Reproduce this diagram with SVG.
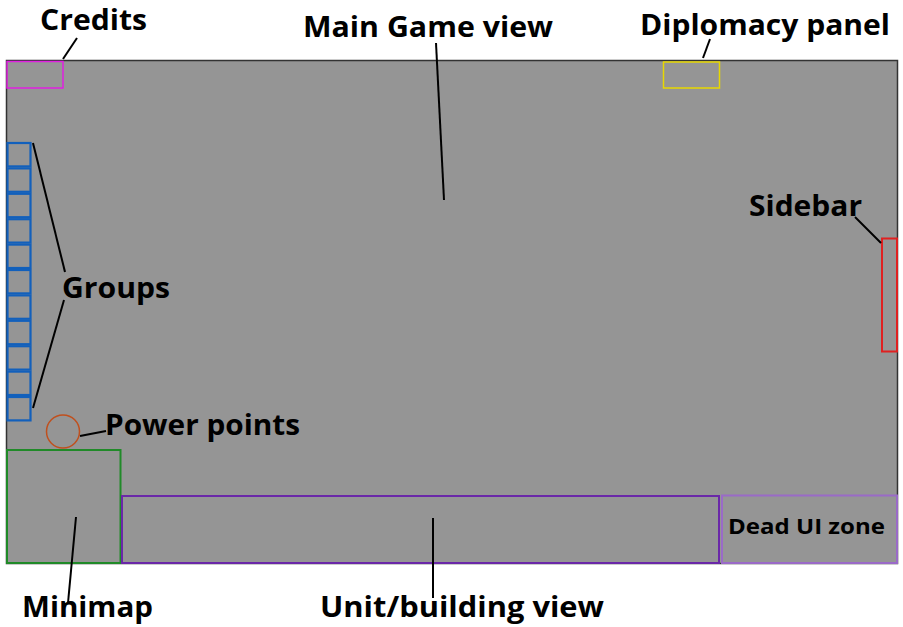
<svg xmlns="http://www.w3.org/2000/svg" width="903" height="627" viewBox="0 0 903 627">
<style>
.lbl{font-family:"Open Sans","Noto Sans","DejaVu Sans",sans-serif;font-weight:700;font-size:29px;fill:#000}
.lead{stroke:#000;stroke-width:2;fill:none}
.grp{fill:none;stroke:#1260bc;stroke-width:2.2}
</style>
<rect width="903" height="627" fill="#fff"/>
<g id="main-game-view">
<rect x="6.5" y="60.5" width="891" height="503" fill="#959595" stroke="#333" stroke-width="1.5"/>
<text class="lbl" x="303" y="37" textLength="250" lengthAdjust="spacingAndGlyphs">Main Game view</text>
</g>
<g id="credits">
<rect x="7" y="61.5" width="56" height="26.5" fill="none" stroke="#e020e0" stroke-width="1.5"/>
<text class="lbl" x="40" y="30" textLength="107" lengthAdjust="spacingAndGlyphs">Credits</text>
</g>
<g id="diplomacy-panel">
<rect x="663.5" y="62" width="56" height="26" fill="none" stroke="#e8d800" stroke-width="1.5"/>
<text class="lbl" x="640" y="35" textLength="250" lengthAdjust="spacingAndGlyphs">Diplomacy panel</text>
</g>
<g id="groups">
<rect class="grp" x="7.5" y="143" width="23" height="23.4"/>
<rect class="grp" x="7.5" y="168.4" width="23" height="23.4"/>
<rect class="grp" x="7.5" y="193.8" width="23" height="23.4"/>
<rect class="grp" x="7.5" y="219.2" width="23" height="23.4"/>
<rect class="grp" x="7.5" y="244.6" width="23" height="23.4"/>
<rect class="grp" x="7.5" y="270" width="23" height="23.4"/>
<rect class="grp" x="7.5" y="295.4" width="23" height="23.4"/>
<rect class="grp" x="7.5" y="320.8" width="23" height="23.4"/>
<rect class="grp" x="7.5" y="346.2" width="23" height="23.4"/>
<rect class="grp" x="7.5" y="371.6" width="23" height="23.4"/>
<rect class="grp" x="7.5" y="397" width="23" height="23.4"/>
<text class="lbl" x="62" y="298" textLength="108" lengthAdjust="spacingAndGlyphs">Groups</text>
</g>
<g id="sidebar">
<rect x="882" y="238.5" width="15" height="113" fill="none" stroke="#e02020" stroke-width="2"/>
<text class="lbl" x="749" y="216" textLength="113" lengthAdjust="spacingAndGlyphs">Sidebar</text>
</g>
<g id="power-points">
<circle cx="63" cy="431.5" r="16.5" fill="none" stroke="#c0501e" stroke-width="1.5"/>
<text class="lbl" x="105" y="435" textLength="195" lengthAdjust="spacingAndGlyphs">Power points</text>
</g>
<g id="minimap">
<rect x="7" y="450" width="113.5" height="113" fill="none" stroke="#208a28" stroke-width="2"/>
<text class="lbl" x="22" y="617" textLength="131" lengthAdjust="spacingAndGlyphs">Minimap</text>
</g>
<g id="unit-building-view">
<rect x="122" y="496" width="597" height="67" fill="none" stroke="#6a28a8" stroke-width="2"/>
<text class="lbl" x="320" y="617" textLength="284" lengthAdjust="spacingAndGlyphs">Unit/building view</text>
</g>
<g id="dead-ui-zone">
<rect x="722" y="495.5" width="175" height="67.5" fill="none" stroke="#9a6ac8" stroke-width="2"/>
<text class="lbl" x="728" y="534" style="font-size:22px" textLength="157" lengthAdjust="spacingAndGlyphs">Dead UI zone</text>
</g>
<g id="connectors">
<line class="lead" x1="77" y1="38" x2="63" y2="59"/>
<line class="lead" x1="436" y1="43" x2="444" y2="200"/>
<line class="lead" x1="710" y1="39" x2="703" y2="58"/>
<line class="lead" x1="33" y1="143" x2="65" y2="272"/>
<line class="lead" x1="64" y1="300" x2="33" y2="408"/>
<line class="lead" x1="855" y1="217" x2="881" y2="243"/>
<line class="lead" x1="80" y1="436" x2="106" y2="431"/>
<line class="lead" x1="76" y1="517" x2="68" y2="603"/>
<line class="lead" x1="433" y1="518" x2="433" y2="598"/>
</g>
</svg>
